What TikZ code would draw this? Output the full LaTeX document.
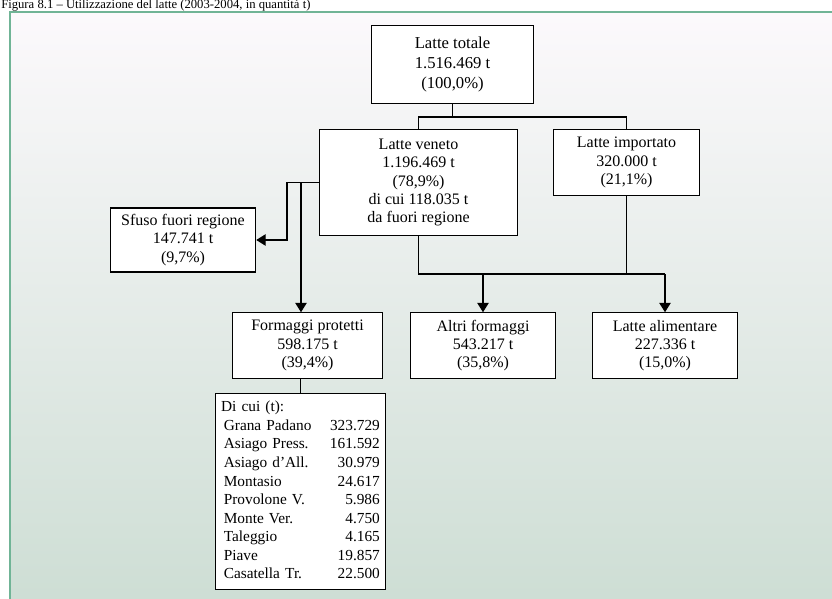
\documentclass[tikz,border=0pt]{standalone}
\usepackage{fontspec}
\setmainfont{Liberation Serif}
\usepackage{tikz}
\usetikzlibrary{arrows.meta}

\definecolor{framegreen}{RGB}{112,180,150}
\definecolor{shadetop}{RGB}{252,249,252}
\definecolor{shademid}{RGB}{233,236,236}
\definecolor{shadebot}{RGB}{204,221,211}

\begin{document}
\begin{tikzpicture}[x=0.75pt,y=0.75pt]
		\tikzstyle{box}=[draw=black, fill=white, line width=0.9pt, align=center, inner sep=2pt, font=\fontsize{12}{13.6}\selectfont]
		\tikzstyle{link}=[black, line width=0.9pt]
		\tikzstyle{arr}=[link, -{Triangle[width=8.5pt,length=7pt]}]
		\useasboundingbox (0,0) rectangle (832,-599);
		\clip (0,0) rectangle (832,-599);
		% frame
		\draw [draw=framegreen, line width=1.5pt, top color=shadetop, middle color=shademid, bottom color=shadebot] (9.5,-12) rectangle (850,-620);
		\node [anchor=base west, inner sep=0pt, font=\fontsize{9.5}{11}\selectfont] (title) at (1,-9) {Figura 8.1 – Utilizzazione del latte (2003-2004, in quantità t)};
		% boxes
		\node [box, minimum width=121pt, minimum height=59pt, font=\fontsize{12.5}{15}\selectfont] (tot) at (452.5,-64.5) {Latte totale\\1.516.469 t\\(100,0\%)};
		\node [box, minimum width=148pt, minimum height=79pt] (ven) at (418.5,-182.5) {Latte veneto\\1.196.469 t\\(78,9\%)\\di cui 118.035 t\\da fuori regione};
		\node [box, minimum width=110pt, minimum height=49pt] (imp) at (626.5,-162.5) {Latte importato\\320.000 t\\(21,1\%)};
		\node [box, minimum width=109pt, minimum height=48pt] (sfu) at (183,-240) {Sfuso fuori regione\\147.741 t\\(9,7\%)};
		\node [box, minimum width=113pt, minimum height=49pt] (fpr) at (307.5,-345.5) {Formaggi protetti\\598.175 t\\(39,4\%)};
		\node [box, minimum width=109pt, minimum height=49pt] (alt) at (483,-345.5) {Altri formaggi\\543.217 t\\(35,8\%)};
		\node [box, minimum width=109pt, minimum height=49pt] (ali) at (665,-345.5) {Latte alimentare\\227.336 t\\(15,0\%)};
		\node [box, anchor=north, align=left, text width=119pt, minimum height=147pt, inner xsep=4pt, inner ysep=4pt, font=\fontsize{11.5}{13.9}\selectfont] (dic) at (300.5,-393)
		{\begin{tabular*}{\linewidth}{@{\hspace{2pt}}l@{\extracolsep{\fill}}r@{}}
			\multicolumn{2}{@{}l}{Di cui (t):}\\
			Grana Padano & 323.729\\
			Asiago Press. & 161.592\\
			Asiago d'All. & 30.979\\
			Montasio & 24.617\\
			Provolone V. & 5.986\\
			Monte Ver. & 4.750\\
			Taleggio & 4.165\\
			Piave & 19.857\\
			Casatella Tr. & 22.500\\
		\end{tabular*}};
		% junctions
		\coordinate (jtop) at (452.5,-117);
		\coordinate (jleft) at (287,-182.5);
		\coordinate (jfor) at (301,-182.5);
		\coordinate (jbot) at (0,-274);
		% connectors
		\draw [link] (tot.south) -- (jtop);
		\draw [link] (ven.north) |- (jtop) -| (imp.north);
		\draw [arr] (ven.west) -- (jleft) |- (sfu.east);
		\draw [arr] (jfor) -- (jfor |- fpr.north);
		\draw [link] (ven.south) |- (ali.north |- jbot);
		\draw [link] (imp.south) -- (imp.south |- jbot);
		\draw [arr] (alt.north |- jbot) -- (alt.north);
		\draw [arr] (ali.north |- jbot) -- (ali.north);
		\draw [link] (dic.north) -- (dic.north |- fpr.south);
	\end{tikzpicture}
\end{document}
